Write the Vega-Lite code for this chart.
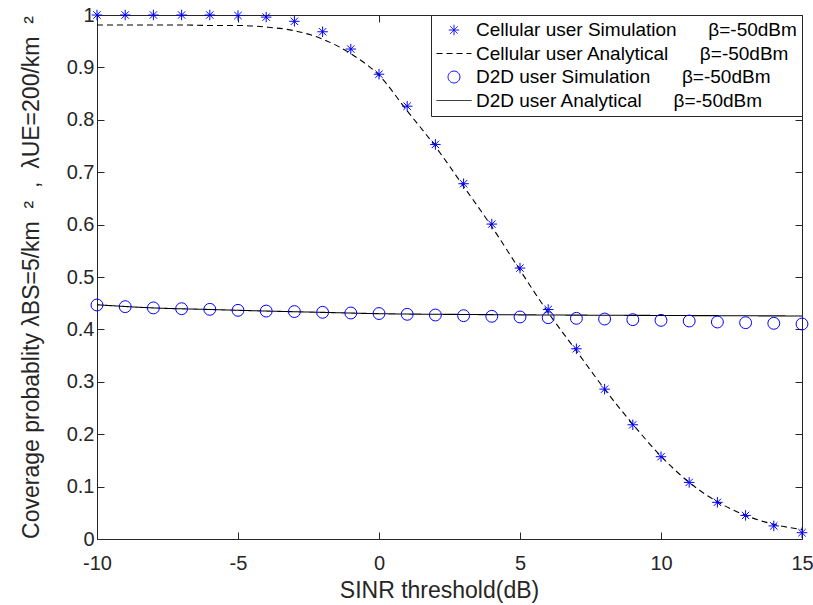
{
  "$schema": "https://vega.github.io/schema/vega-lite/v6.json",
  "width": 705,
  "height": 524,
  "autosize": {"type": "none"},
  "padding": {"left": 97, "top": 15, "right": 11, "bottom": 66},
  "background": "white",
  "config": {
    "font": "Liberation Sans",
    "view": {"stroke": null},
    "axis": {
      "grid": false,
      "domainColor": "#262626",
      "tickColor": "#262626",
      "labelColor": "#262626",
      "titleColor": "#262626",
      "labelFont": "Liberation Sans",
      "titleFont": "Liberation Sans",
      "labelFontSize": 20,
      "titleFontSize": 23,
      "titleFontWeight": "normal",
      "tickSize": -7,
      "domainWidth": 1,
      "tickWidth": 1,
      "labelPadding": 10,
      "labelFlush": false,
      "labelExpr": "replace(datum.label, '\u2212', '-')"
    },
    "legend": {
      "orient": "top-right",
      "offset": 0,
      "strokeColor": "#262626",
      "fillColor": "white",
      "padding": 5,
      "labelFont": "Liberation Sans",
      "labelFontSize": 19,
      "labelColor": "#000000",
      "rowPadding": 3.5,
      "clipHeight": 20,
      "symbolSize": 1225,
      "symbolStrokeWidth": 1,
      "labelOffset": 4,
      "labelLimit": 0
    }
  },
  "datasets": {
    "analytical": [
      {"x": -10, "p": 0.981, "series": "Cellular user Analytical"},
      {"x": -9, "p": 0.981, "series": "Cellular user Analytical"},
      {"x": -8, "p": 0.981, "series": "Cellular user Analytical"},
      {"x": -7, "p": 0.981, "series": "Cellular user Analytical"},
      {"x": -6, "p": 0.980, "series": "Cellular user Analytical"},
      {"x": -5, "p": 0.980, "series": "Cellular user Analytical"},
      {"x": -4, "p": 0.977, "series": "Cellular user Analytical"},
      {"x": -3, "p": 0.970, "series": "Cellular user Analytical"},
      {"x": -2, "p": 0.954, "series": "Cellular user Analytical"},
      {"x": -1, "p": 0.926, "series": "Cellular user Analytical"},
      {"x": 0, "p": 0.885, "series": "Cellular user Analytical"},
      {"x": 1, "p": 0.817, "series": "Cellular user Analytical"},
      {"x": 2, "p": 0.749, "series": "Cellular user Analytical"},
      {"x": 3, "p": 0.673, "series": "Cellular user Analytical"},
      {"x": 4, "p": 0.596, "series": "Cellular user Analytical"},
      {"x": 5, "p": 0.513, "series": "Cellular user Analytical"},
      {"x": 6, "p": 0.432, "series": "Cellular user Analytical"},
      {"x": 7, "p": 0.359, "series": "Cellular user Analytical"},
      {"x": 8, "p": 0.286, "series": "Cellular user Analytical"},
      {"x": 9, "p": 0.219, "series": "Cellular user Analytical"},
      {"x": 10, "p": 0.158, "series": "Cellular user Analytical"},
      {"x": 11, "p": 0.108, "series": "Cellular user Analytical"},
      {"x": 12, "p": 0.071, "series": "Cellular user Analytical"},
      {"x": 13, "p": 0.045, "series": "Cellular user Analytical"},
      {"x": 14, "p": 0.028, "series": "Cellular user Analytical"},
      {"x": 15, "p": 0.018, "series": "Cellular user Analytical"},
      {"x": -10, "p": 0.447, "series": "D2D user Analytical"},
      {"x": -8, "p": 0.441, "series": "D2D user Analytical"},
      {"x": -6, "p": 0.438, "series": "D2D user Analytical"},
      {"x": -4, "p": 0.435, "series": "D2D user Analytical"},
      {"x": -2, "p": 0.4325, "series": "D2D user Analytical"},
      {"x": 0, "p": 0.430, "series": "D2D user Analytical"},
      {"x": 3, "p": 0.4285, "series": "D2D user Analytical"},
      {"x": 6, "p": 0.4275, "series": "D2D user Analytical"},
      {"x": 9, "p": 0.4268, "series": "D2D user Analytical"},
      {"x": 12, "p": 0.4262, "series": "D2D user Analytical"},
      {"x": 15, "p": 0.4256, "series": "D2D user Analytical"}
    ],
    "simulation": [
      {"x": -10, "p": 1.0, "series": "Cellular user Simulation"},
      {"x": -9, "p": 1.0, "series": "Cellular user Simulation"},
      {"x": -8, "p": 1.0, "series": "Cellular user Simulation"},
      {"x": -7, "p": 1.0, "series": "Cellular user Simulation"},
      {"x": -6, "p": 1.0, "series": "Cellular user Simulation"},
      {"x": -5, "p": 0.999, "series": "Cellular user Simulation"},
      {"x": -4, "p": 0.996, "series": "Cellular user Simulation"},
      {"x": -3, "p": 0.988, "series": "Cellular user Simulation"},
      {"x": -2, "p": 0.968, "series": "Cellular user Simulation"},
      {"x": -1, "p": 0.935, "series": "Cellular user Simulation"},
      {"x": 0, "p": 0.887, "series": "Cellular user Simulation"},
      {"x": 1, "p": 0.826, "series": "Cellular user Simulation"},
      {"x": 2, "p": 0.753, "series": "Cellular user Simulation"},
      {"x": 3, "p": 0.678, "series": "Cellular user Simulation"},
      {"x": 4, "p": 0.601, "series": "Cellular user Simulation"},
      {"x": 5, "p": 0.517, "series": "Cellular user Simulation"},
      {"x": 6, "p": 0.438, "series": "Cellular user Simulation"},
      {"x": 7, "p": 0.363, "series": "Cellular user Simulation"},
      {"x": 8, "p": 0.286, "series": "Cellular user Simulation"},
      {"x": 9, "p": 0.218, "series": "Cellular user Simulation"},
      {"x": 10, "p": 0.157, "series": "Cellular user Simulation"},
      {"x": 11, "p": 0.108, "series": "Cellular user Simulation"},
      {"x": 12, "p": 0.070, "series": "Cellular user Simulation"},
      {"x": 13, "p": 0.045, "series": "Cellular user Simulation"},
      {"x": 14, "p": 0.025, "series": "Cellular user Simulation"},
      {"x": 15, "p": 0.012, "series": "Cellular user Simulation"},
      {"x": -10, "p": 0.4466, "series": "D2D user Simulation"},
      {"x": -9, "p": 0.4434, "series": "D2D user Simulation"},
      {"x": -8, "p": 0.441, "series": "D2D user Simulation"},
      {"x": -7, "p": 0.4395, "series": "D2D user Simulation"},
      {"x": -6, "p": 0.4383, "series": "D2D user Simulation"},
      {"x": -5, "p": 0.4364, "series": "D2D user Simulation"},
      {"x": -4, "p": 0.435, "series": "D2D user Simulation"},
      {"x": -3, "p": 0.434, "series": "D2D user Simulation"},
      {"x": -2, "p": 0.4326, "series": "D2D user Simulation"},
      {"x": -1, "p": 0.4313, "series": "D2D user Simulation"},
      {"x": 0, "p": 0.4303, "series": "D2D user Simulation"},
      {"x": 1, "p": 0.4288, "series": "D2D user Simulation"},
      {"x": 2, "p": 0.4275, "series": "D2D user Simulation"},
      {"x": 3, "p": 0.4262, "series": "D2D user Simulation"},
      {"x": 4, "p": 0.425, "series": "D2D user Simulation"},
      {"x": 5, "p": 0.4237, "series": "D2D user Simulation"},
      {"x": 6, "p": 0.4224, "series": "D2D user Simulation"},
      {"x": 7, "p": 0.4211, "series": "D2D user Simulation"},
      {"x": 8, "p": 0.4198, "series": "D2D user Simulation"},
      {"x": 9, "p": 0.4186, "series": "D2D user Simulation"},
      {"x": 10, "p": 0.4173, "series": "D2D user Simulation"},
      {"x": 11, "p": 0.416, "series": "D2D user Simulation"},
      {"x": 12, "p": 0.4141, "series": "D2D user Simulation"},
      {"x": 13, "p": 0.4128, "series": "D2D user Simulation"},
      {"x": 14, "p": 0.4116, "series": "D2D user Simulation"},
      {"x": 15, "p": 0.4103, "series": "D2D user Simulation"}
    ]
  },
  "layer": [
    {
      "data": {"name": "analytical"},
      "mark": {"type": "line", "interpolate": "monotone", "strokeWidth": 1.1},
      "encoding": {
        "x": {
          "field": "x", "type": "quantitative",
          "scale": {"domain": [-10, 15], "nice": false, "zero": false},
          "axis": {
            "orient": "bottom",
            "values": [-10, -5, 0, 5, 10, 15],
            "format": "d",
            "title": "SINR threshold(dB)",
            "titleX": 342,
            "titleY": 58,
            "titleBaseline": "alphabetic",
            "labelPadding": 21
          }
        },
        "y": {
          "field": "p", "type": "quantitative",
          "scale": {"domain": [0, 1], "nice": false, "zero": false},
          "axis": {
            "orient": "left",
            "values": [0, 0.1, 0.2, 0.3, 0.4, 0.5, 0.6, 0.7, 0.8, 0.9, 1],
            "format": ".1~f",
            "title": "Coverage probablity λBS=5/km\u00a0\u00a0²\u00a0\u00a0,\u00a0\u00a0λUE=200/km\u00a0\u00a0²",
            "titleX": -59,
            "titleY": 262,
            "titleAngle": -90,
            "titleBaseline": "alphabetic"
          }
        },
        "color": {
          "field": "series", "type": "nominal",
          "scale": {
            "domain": ["Cellular user Simulation", "Cellular user Analytical", "D2D user Simulation", "D2D user Analytical"],
            "range": ["#0000ff", "#000000", "#0000ff", "#000000"]
          },
          "legend": {"title": null, "labelExpr": "datum.label + '\u00a0\u00a0\u00a0\u00a0\u00a0\u00a0β=-50dBm\u00a0'"}
        },
        "strokeDash": {
          "field": "series", "type": "nominal",
          "scale": {
            "domain": ["Cellular user Simulation", "Cellular user Analytical", "D2D user Simulation", "D2D user Analytical"],
            "range": [[1, 0], [6, 4], [1, 0], [1, 0]]
          },
          "legend": {"title": null, "labelExpr": "datum.label + '\u00a0\u00a0\u00a0\u00a0\u00a0\u00a0β=-50dBm\u00a0'"}
        }
      }
    },
    {
      "data": {"name": "simulation"},
      "mark": {"type": "point", "filled": false, "strokeWidth": 1, "opacity": 1, "size": 1225},
      "encoding": {
        "x": {
          "field": "x", "type": "quantitative",
          "axis": {"orient": "top", "values": [-10, -5, 0, 5, 10, 15], "labels": false, "title": null}
        },
        "y": {
          "field": "p", "type": "quantitative",
          "axis": {"orient": "right", "values": [0, 0.1, 0.2, 0.3, 0.4, 0.5, 0.6, 0.7, 0.8, 0.9, 1], "labels": false, "title": null}
        },
        "color": {
          "field": "series", "type": "nominal",
          "legend": {"title": null, "labelExpr": "datum.label + '\u00a0\u00a0\u00a0\u00a0\u00a0\u00a0β=-50dBm\u00a0'"}
        },
        "shape": {
          "field": "series", "type": "nominal",
          "scale": {
            "domain": ["Cellular user Simulation", "Cellular user Analytical", "D2D user Simulation", "D2D user Analytical"],
            "range": [
              "M-0.3,0L0.3,0M0,-0.3L0,0.3M-0.21,-0.21L0.21,0.21M-0.21,0.21L0.21,-0.21",
              "stroke",
              "M0.34,0A0.34,0.34,0,1,1,-0.34,0A0.34,0.34,0,1,1,0.34,0Z",
              "stroke"
            ]
          },
          "legend": {"title": null, "labelExpr": "datum.label + '\u00a0\u00a0\u00a0\u00a0\u00a0\u00a0β=-50dBm\u00a0'"}
        }
      }
    }
  ],
  "resolve": {"axis": {"x": "independent", "y": "independent"}}
}
